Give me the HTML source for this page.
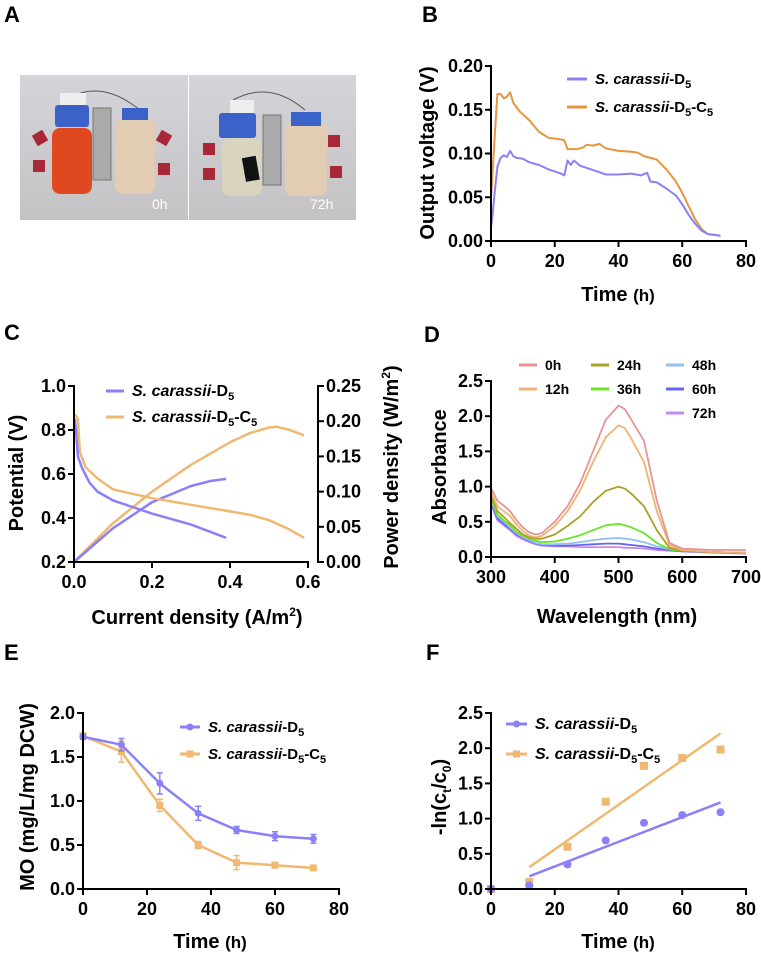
<!DOCTYPE html>
<html><head><meta charset="utf-8"><style>
html,body{margin:0;padding:0;background:#fff;}
svg{display:block;font-family:"Liberation Sans",Arial,sans-serif;}
</style></head><body>
<svg id="fig" width="761" height="956" viewBox="0 0 761 956">
<text x="4" y="22" font-size="22" font-weight="bold">A</text>
<text x="422" y="22" font-size="22" font-weight="bold">B</text>
<text x="4" y="340" font-size="22" font-weight="bold">C</text>
<text x="424" y="342" font-size="22" font-weight="bold">D</text>
<text x="4" y="660" font-size="22" font-weight="bold">E</text>
<text x="426" y="660" font-size="22" font-weight="bold">F</text>
<g>
<defs><linearGradient id="bg" x1="0" y1="0" x2="0" y2="1"><stop offset="0" stop-color="#d4d4da"/><stop offset="1" stop-color="#c4c2c4"/></linearGradient></defs>
<rect x="20" y="75" width="168" height="145" fill="url(#bg)"/>
<rect x="189" y="75" width="167" height="145" fill="url(#bg)"/>
<path d="M66 100 Q100 78 140 110" stroke="#555" fill="none" stroke-width="1"/>
<path d="M233 100 Q270 80 305 110" stroke="#555" fill="none" stroke-width="1"/>
<rect x="60" y="93" width="26" height="14" fill="#eee"/>
<rect x="52" y="128" width="40" height="66" rx="8" fill="#e04820"/>
<rect x="55" y="105" width="34" height="22" rx="3" fill="#3b62c8"/>
<rect x="34" y="132" width="12" height="12" fill="#a82838" transform="rotate(-30 40 138)"/>
<rect x="33" y="160" width="12" height="12" fill="#a82838"/>
<rect x="93" y="108" width="18" height="72" fill="#aaa" stroke="#777"/>
<rect x="115" y="118" width="40" height="76" rx="8" fill="#e2cdb4"/>
<rect x="122" y="108" width="26" height="12" fill="#3b62c8"/>
<rect x="158" y="132" width="12" height="12" fill="#a82838" transform="rotate(30 164 138)"/>
<rect x="158" y="163" width="12" height="12" fill="#a82838"/>
<text x="152" y="209" font-size="14" fill="#fff">0h</text>
<rect x="230" y="100" width="24" height="14" fill="#eee"/>
<rect x="219" y="113" width="37" height="25" rx="3" fill="#3b62c8"/>
<rect x="222" y="138" width="40" height="58" rx="8" fill="#d8d4c0"/>
<rect x="244" y="157" width="14" height="24" fill="#111" transform="rotate(-10 250 170)"/>
<rect x="203" y="143" width="12" height="12" fill="#a82838"/>
<rect x="203" y="168" width="12" height="12" fill="#a82838"/>
<rect x="263" y="115" width="18" height="70" fill="#aaa" stroke="#777"/>
<rect x="285" y="122" width="42" height="74" rx="8" fill="#e2cdb4"/>
<rect x="291" y="112" width="30" height="14" fill="#3b62c8"/>
<rect x="328" y="135" width="12" height="12" fill="#a82838"/>
<rect x="330" y="166" width="12" height="12" fill="#a82838"/>
<text x="310" y="209" font-size="14" fill="#fff">72h</text>
</g>
</svg>
<script>
// Panel B
const bTimeD5 = [0,0.5,1,2,3,4,5,6,7,8,10,12,15,18,22,23,24,25,26,28,32,36,40,44,47,49,50,52,55,58,60,62,64,66,68,72];
const bVoltD5 = [0.015,0.03,0.05,0.085,0.095,0.098,0.096,0.103,0.097,0.095,0.094,0.09,0.087,0.082,0.077,0.075,0.092,0.087,0.092,0.086,0.081,0.076,0.076,0.077,0.075,0.078,0.068,0.067,0.06,0.052,0.042,0.03,0.02,0.012,0.008,0.006];
const bTimeC5 = [0,1,2,3,4,5,6,7,9,12,15,18,22,23,24,27,29,30,32,34,36,40,44,46,48,50,52,55,58,60,62,64,66,68,72];
const bVoltC5 = [0.048,0.11,0.168,0.168,0.163,0.165,0.170,0.158,0.148,0.138,0.125,0.118,0.116,0.115,0.105,0.105,0.107,0.110,0.109,0.111,0.106,0.103,0.102,0.101,0.097,0.095,0.093,0.082,0.068,0.055,0.04,0.025,0.014,0.008,0.006];
const bYTicks = [0,0.05,0.10,0.15,0.20];
const bYLabels = ["0.00","0.05","0.10","0.15","0.20"];
const timeTicks = [0,20,40,60,80];
// Panel C
const cCurD5 = [0.002,0.005,0.01,0.02,0.04,0.06,0.1,0.15,0.2,0.3,0.39];
const cPotD5 = [0.85,0.80,0.68,0.63,0.56,0.52,0.48,0.45,0.42,0.37,0.31];
const cCurC5 = [0.003,0.01,0.015,0.03,0.06,0.1,0.15,0.2,0.3,0.4,0.45,0.5,0.55,0.59];
const cPotC5 = [0.87,0.85,0.70,0.63,0.58,0.53,0.51,0.49,0.46,0.43,0.415,0.39,0.35,0.31];
const cPwCurD5 = [0,0.1,0.2,0.3,0.35,0.39];
const cPwD5 = [0,0.048,0.085,0.108,0.115,0.118];
const cPwCurC5 = [0,0.1,0.2,0.3,0.4,0.45,0.5,0.52,0.55,0.59];
const cPwC5 = [0,0.055,0.10,0.138,0.17,0.183,0.191,0.192,0.188,0.18];
const cXTicks = [0,0.2,0.4,0.6];
const cXLabels = ["0.0","0.2","0.4","0.6"];
const cYLTicks = [0.2,0.4,0.6,0.8,1.0];
const cYLLabels = ["0.2","0.4","0.6","0.8","1.0"];
const cYRTicks = [0,0.05,0.10,0.15,0.20,0.25];
const cYRLabels = ["0.00","0.05","0.10","0.15","0.20","0.25"];
// Panel D
const dWave = [300,310,320,330,340,350,360,370,380,400,420,440,460,480,500,510,520,540,560,580,600,650,700];
const dNames = ["0h","12h","24h","36h","48h","60h","72h"];
const dAbs0 = [0.98,0.80,0.73,0.65,0.52,0.42,0.35,0.32,0.34,0.50,0.72,1.05,1.50,1.95,2.15,2.10,1.95,1.65,0.80,0.20,0.12,0.10,0.10];
const dAbs12 = [0.92,0.72,0.65,0.58,0.46,0.37,0.30,0.28,0.30,0.44,0.65,0.95,1.35,1.70,1.87,1.83,1.68,1.35,0.65,0.17,0.10,0.07,0.06];
const dAbs24 = [0.88,0.65,0.57,0.48,0.40,0.32,0.28,0.26,0.26,0.32,0.44,0.58,0.78,0.94,1.00,0.97,0.90,0.72,0.38,0.13,0.09,0.07,0.06];
const dAbs36 = [0.85,0.60,0.52,0.45,0.36,0.30,0.26,0.23,0.21,0.22,0.26,0.31,0.38,0.45,0.47,0.45,0.42,0.34,0.20,0.11,0.09,0.07,0.06];
const dAbs48 = [0.82,0.58,0.50,0.42,0.34,0.28,0.24,0.20,0.18,0.18,0.19,0.21,0.24,0.26,0.27,0.26,0.25,0.21,0.15,0.11,0.09,0.07,0.06];
const dAbs60 = [0.78,0.55,0.47,0.40,0.32,0.27,0.23,0.19,0.17,0.16,0.16,0.17,0.18,0.19,0.19,0.18,0.17,0.15,0.12,0.10,0.08,0.07,0.05];
const dAbs72 = [0.75,0.52,0.45,0.38,0.30,0.25,0.21,0.18,0.16,0.15,0.15,0.14,0.14,0.14,0.14,0.13,0.13,0.12,0.10,0.09,0.08,0.06,0.05];
const dXTicks = [300,400,500,600,700];
const dYTicks = [0,0.5,1.0,1.5,2.0,2.5];
const dYLabels = ["0.0","0.5","1.0","1.5","2.0","2.5"];
// Panel E
const eTime = [0,12,24,36,48,60,72];
const eMoD5 = [1.73,1.64,1.20,0.86,0.67,0.60,0.57];
const eErrD5 = [0.03,0.07,0.12,0.08,0.04,0.05,0.05];
const eMoC5 = [1.74,1.56,0.95,0.50,0.30,0.27,0.24];
const eErrC5 = [0.03,0.12,0.07,0.04,0.08,0.03,0.02];
const eYTicks = [0,0.5,1.0,1.5,2.0];
const eYLabels = ["0.0","0.5","1.0","1.5","2.0"];
// Panel F
const fTime = [0,12,24,36,48,60,72];
const fLnD5 = [0,0.05,0.35,0.69,0.94,1.05,1.09];
const fLnC5 = [0,0.10,0.60,1.24,1.75,1.86,1.98];
const fFitT = [12,72];
const fFitD5 = [0.18,1.23];
const fFitC5 = [0.31,2.21];
const fYTicks = [0,0.5,1.0,1.5,2.0,2.5];
const fYLabels = ["0.0","0.5","1.0","1.5","2.0","2.5"];

const NS = "http://www.w3.org/2000/svg";
const svg = document.getElementById("fig");
function mk(tag, attrs, parent) {
  const e = document.createElementNS(NS, tag);
  for (const k in attrs) e.setAttribute(k, attrs[k]);
  (parent || svg).appendChild(e);
  return e;
}
function lin(d0, d1, r0, r1) { return v => r0 + (v - d0) / (d1 - d0) * (r1 - r0); }
function pathD(xs, ys, sx, sy) { return xs.map((x, i) => (i ? "L" : "M") + sx(x).toFixed(1) + " " + sy(ys[i]).toFixed(1)).join(""); }
const BLUE = "#8a80f8", ORANGE = "#e6963f", TAN = "#f0b870";

function yAxis(g, x, sy, ticks, labels, side, name) {
  const ax = mk("line", {x1: x, x2: x, y1: sy(ticks[0]) + 1, y2: sy(ticks[ticks.length - 1]) - 1, stroke: "#000", "stroke-width": 2}, g);
  
  
  ticks.forEach((t, i) => {
    const y = sy(t);
    const dx = side === "left" ? -6 : 6;
    mk("line", {x1: x, x2: x + dx, y1: y, y2: y, stroke: "#000", "stroke-width": 2}, g);
    const tx = mk("text", {x: side === "left" ? x - 8 : x + 8, y: y + 6, "font-size": 18, "font-weight": "bold", "text-anchor": side === "left" ? "end" : "start"}, g);
    tx.textContent = labels[i];
    
    
  });
}
function xAxis(g, y, sx, ticks, labels, name) {
  const ax = mk("line", {x1: sx(ticks[0]) - 1, x2: sx(ticks[ticks.length - 1]) + 1, y1: y, y2: y, stroke: "#000", "stroke-width": 2}, g);
  
  
  ticks.forEach((t, i) => {
    const x = sx(t);
    mk("line", {x1: x, x2: x, y1: y, y2: y + 6, stroke: "#000", "stroke-width": 2}, g);
    const tx = mk("text", {x: x, y: y + 26, "font-size": 18, "font-weight": "bold", "text-anchor": "middle"}, g);
    tx.textContent = labels[i];
    
    
  });
}
function title(g, x, y, html, rot, size, name) {
  const t = mk("text", {x: x, y: y, "font-size": size || 20, "font-weight": "bold", "text-anchor": "middle"}, g);
  if (rot) t.setAttribute("transform", "rotate(-90 " + x + " " + y + ")");
  t.innerHTML = html;
  
  
  return t;
}
const D5TXT = '<tspan font-style="italic">S. carassii</tspan>-D<tspan font-size="11" dy="4">5</tspan>';
const C5TXT = '<tspan font-style="italic">S. carassii</tspan>-D<tspan font-size="11" dy="4">5</tspan><tspan dy="-4">-C</tspan><tspan font-size="11" dy="4">5</tspan>';
function legend(g, x1, x2, y, color, html, marker, name, size) {
  const l = mk("line", {x1: x1, x2: x2, y1: y, y2: y, stroke: color, "stroke-width": 3}, g);
  
  
  if (marker === "c") mk("circle", {cx: (x1 + x2) / 2, cy: y, r: 3.5, fill: color}, g);
  if (marker === "s") mk("rect", {x: (x1 + x2) / 2 - 3.5, y: y - 3.5, width: 7, height: 7, fill: color}, g);
  const t = mk("text", {x: x2 + 8, y: y + 5, "font-size": size || 15, "font-weight": "bold"}, g);
  t.innerHTML = html;
  
  
}
function series(g, d, color, name, w) {
  const p = mk("path", {d: d, fill: "none", stroke: color, "stroke-width": w || 2, "stroke-linejoin": "round"}, g);
  
  
  return p;
}

(function () {
  const g = mk("g", {});
  
  
  const sx = lin(0, 80, 491, 746), sy = lin(0, 0.2, 241, 66);
  series(g, pathD(bTimeC5, bVoltC5, sx, sy), ORANGE, "line-d5-c5-voltage");
  series(g, pathD(bTimeD5, bVoltD5, sx, sy), BLUE, "line-d5-voltage");
  yAxis(g, 491, sy, bYTicks, bYLabels, "left", "y-axis-b");
  xAxis(g, 241, sx, timeTicks, timeTicks.map(String), "x-axis-b");
  title(g, 434, 153, "Output voltage (V)", true, 20, "y-axis-title-b");
  title(g, 618, 301, 'Time <tspan font-size="17">(h)</tspan>', false, 20, "x-axis-title-b");
  legend(g, 567, 587, 79, BLUE, D5TXT, null, "legend-b-d5");
  legend(g, 567, 587, 107, ORANGE, C5TXT, null, "legend-b-d5-c5");
})();

(function () {
  const g = mk("g", {});
  
  
  const sx = lin(0, 0.6, 74, 308), syL = lin(0.2, 1.0, 562, 386), syR = lin(0, 0.25, 562, 386);
  series(g, pathD(cPwCurC5, cPwC5, sx, syR), TAN, "power-curve-d5-c5", 2.5);
  series(g, pathD(cPwCurD5, cPwD5, sx, syR), BLUE, "power-curve-d5", 2.5);
  series(g, pathD(cCurC5, cPotC5, sx, syL), TAN, "polarization-curve-d5-c5", 2.5);
  series(g, pathD(cCurD5, cPotD5, sx, syL), BLUE, "polarization-curve-d5", 2.5);
  yAxis(g, 74, syL, cYLTicks, cYLLabels, "left", "y-axis-left-c");
  yAxis(g, 318, syR, cYRTicks, cYRLabels, "right", "y-axis-right-c");
  xAxis(g, 562, sx, cXTicks, cXLabels, "x-axis-c");
  title(g, 23, 473, "Potential (V)", true, 20, "y-axis-title-left-c");
  title(g, 398, 467, 'Power density (W/m<tspan font-size="12" dy="-8">2</tspan><tspan dy="8">)</tspan>', true, 20, "y-axis-title-right-c");
  title(g, 197, 624, 'Current density (A/m<tspan font-size="12" dy="-8">2</tspan><tspan dy="8">)</tspan>', false, 20, "x-axis-title-c");
  legend(g, 106, 124, 391, BLUE, D5TXT, null, "legend-c-d5", 16);
  legend(g, 106, 124, 417, TAN, C5TXT, null, "legend-c-d5-c5", 16);
})();

(function () {
  const g = mk("g", {});
  
  
  const sx = lin(300, 700, 491, 746), sy = lin(0, 2.5, 557, 381);
  const all = [dAbs0, dAbs12, dAbs24, dAbs36, dAbs48, dAbs60, dAbs72];
  const cols = ["#e89494", "#f0b274", "#aaa028", "#66e626", "#94c0f4", "#6466f0", "#c888f4"];
  for (let i = all.length - 1; i >= 0; i--) {
    series(g, pathD(dWave, all[i], sx, sy), cols[i], "spectrum-" + dNames[i], 1.8);
  }
  yAxis(g, 491, sy, dYTicks, dYLabels, "left", "y-axis-d");
  xAxis(g, 557, sx, dXTicks, dXTicks.map(String), "x-axis-d");
  title(g, 446, 467, "Absorbance", true, 20, "y-axis-title-d");
  title(g, 617, 623, "Wavelength (nm)", false, 20, "x-axis-title-d");
  const lx = [519, 591, 666], ly = [365, 389, 413];
  dNames.forEach((n, i) => {
    const c = Math.floor(i / 2) < 2 ? Math.floor(i / 2) : 2;
    const r = i < 4 ? i % 2 : i - 4;
    legend(g, lx[c], lx[c] + 18, ly[r], cols[i], n, null, "legend-d-" + n, 14);
  });
})();

(function () {
  const g = mk("g", {});
  
  
  const sx = lin(0, 80, 83, 339), sy = lin(0, 2.0, 889, 713);
  [[eMoC5, eErrC5, TAN, "s", "d5-c5"], [eMoD5, eErrD5, BLUE, "c", "d5"]].forEach(s => {
    series(g, pathD(eTime, s[0], sx, sy), s[2], "line-e-" + s[4], 2.5);
    eTime.forEach((t, i) => {
      const x = sx(t), y = sy(s[0][i]);
      const eb = mk("path", {d: "M" + (x - 3) + " " + sy(s[0][i] + s[1][i]) + "h6M" + x + " " + sy(s[0][i] + s[1][i]) + "V" + sy(s[0][i] - s[1][i]) + "M" + (x - 3) + " " + sy(s[0][i] - s[1][i]) + "h6", stroke: s[2], "stroke-width": 1.5, fill: "none"}, g);
      
      
      const m = s[3] === "c" ? mk("circle", {cx: x, cy: y, r: 3.5, fill: s[2]}, g) : mk("rect", {x: x - 3.5, y: y - 3.5, width: 7, height: 7, fill: s[2]}, g);
      
      
    });
  });
  yAxis(g, 83, sy, eYTicks, eYLabels, "left", "y-axis-e");
  xAxis(g, 889, sx, timeTicks, timeTicks.map(String), "x-axis-e");
  title(g, 34, 797, "MO (mg/L/mg DCW)", true, 20, "y-axis-title-e");
  title(g, 210, 948, 'Time <tspan font-size="17">(h)</tspan>', false, 20, "x-axis-title-e");
  legend(g, 180, 200, 727, BLUE, D5TXT, "c", "legend-e-d5");
  legend(g, 180, 200, 754, TAN, C5TXT, "s", "legend-e-d5-c5");
})();

(function () {
  const g = mk("g", {});
  
  
  const sx = lin(0, 80, 491, 746), sy = lin(0, 2.5, 889, 713);
  series(g, pathD(fFitT, fFitC5, sx, sy), TAN, "fit-line-d5-c5", 2.5);
  series(g, pathD(fFitT, fFitD5, sx, sy), BLUE, "fit-line-d5", 2.5);
  fTime.forEach((t, i) => {
    const r = mk("rect", {x: sx(t) - 4, y: sy(fLnC5[i]) - 4, width: 8, height: 8, fill: TAN}, g);
    
    
    const c = mk("circle", {cx: sx(t), cy: sy(fLnD5[i]), r: 4, fill: BLUE}, g);
    
    
  });
  yAxis(g, 491, sy, fYTicks, fYLabels, "left", "y-axis-f");
  xAxis(g, 889, sx, timeTicks, timeTicks.map(String), "x-axis-f");
  title(g, 446, 797, '-ln(c<tspan font-size="12" dy="5">t</tspan><tspan dy="-5">/c</tspan><tspan font-size="12" dy="5">0</tspan><tspan dy="-5">)</tspan>', true, 20, "y-axis-title-f");
  title(g, 618, 948, 'Time <tspan font-size="17">(h)</tspan>', false, 20, "x-axis-title-f");
  legend(g, 506, 527, 724, BLUE, D5TXT, "c", "legend-f-d5", 16);
  legend(g, 506, 527, 754, TAN, C5TXT, "s", "legend-f-d5-c5", 16);
})();
</script>
</body></html>
